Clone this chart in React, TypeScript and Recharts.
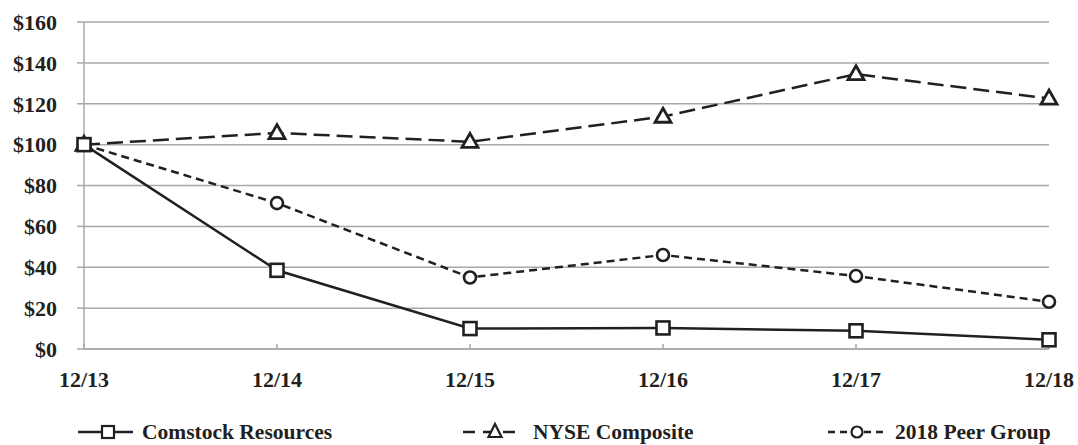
import React from "react";
import { LineChart, Line, XAxis, YAxis, CartesianGrid } from "recharts";

const categories = ["12/13", "12/14", "12/15", "12/16", "12/17", "12/18"];
const comstock = [100, 38.5, 10, 10.3, 8.9, 4.5];
const nyse = [100, 105.7, 101.4, 113.7, 134.5, 122.6];
const peer = [100, 71.4, 35, 46, 35.7, 23.1];
const yTicks = [0, 20, 40, 60, 80, 100, 120, 140, 160];

const data = categories.map((c, i) => ({
  cat: c,
  comstock: comstock[i],
  nyse: nyse[i],
  peer: peer[i],
}));

const INK = "#231f20";
const GRID = "#a8a8a8";
const FONT = "'Liberation Serif', 'Times New Roman', serif";

const SquareDot = (props: any) => {
  const { cx, cy, index } = props;
  if (cx == null || cy == null) return null;
  return (
    <rect key={`s-${index}`} x={cx - 6.5} y={cy - 6.5} width={13} height={13} fill="#fff" stroke={INK} strokeWidth={2.6} />
  );
};

const TriDot = (props: any) => {
  const { cx, cy, index } = props;
  if (cx == null || cy == null) return null;
  const s = 16;
  const h = 14;
  return (
    <path
      key={`t-${index}`}
      d={`M${cx},${cy - h * 0.6} L${cx + s / 2},${cy + h * 0.4} L${cx - s / 2},${cy + h * 0.4} Z`}
      fill="#fff"
      stroke={INK}
      strokeWidth={2.8}
      strokeLinejoin="miter"
    />
  );
};

const CircDot = (props: any) => {
  const { cx, cy, index } = props;
  if (cx == null || cy == null) return null;
  return <circle key={`c-${index}`} cx={cx} cy={cy} r={6} fill="#fff" stroke={INK} strokeWidth={2.6} />;
};

const XTick = (props: any) => {
  const { x, y, payload } = props;
  return (
    <text
      x={x}
      y={y}
      dy="0.71em"
      textAnchor="middle"
      fill={INK}
      style={{ fontFamily: FONT, fontWeight: "bold", fontSize: 22 }}
    >
      {payload.value}
    </text>
  );
};

const Legend = () => {
  const ly = 432;
  const ty = 439;
  const textStyle: React.CSSProperties = { fontFamily: FONT, fontWeight: "bold", fontSize: 21.5 };
  return (
    <svg width={1078} height={445} style={{ position: "absolute", left: 0, top: 0, pointerEvents: "none" }}>
      {/* Comstock */}
      <line x1={78} y1={ly} x2={133} y2={ly} stroke={INK} strokeWidth={2.5} />
      <rect x={102} y={ly - 6} width={12} height={12} fill="#fff" stroke={INK} strokeWidth={2.2} />
      <text x={142} y={ty} style={textStyle} fill={INK}>
        Comstock Resources
      </text>
      {/* NYSE */}
      <line x1={463} y1={ly} x2={518} y2={ly} stroke={INK} strokeWidth={2.5} strokeDasharray="12 8" />
      <path
        d={`M495,${ly - 8} L501.5,${ly + 5} L488.5,${ly + 5} Z`}
        fill="#fff"
        stroke={INK}
        strokeWidth={2.2}
      />
      <text x={533} y={ty} style={textStyle} fill={INK}>
        NYSE Composite
      </text>
      {/* Peer */}
      <line x1={828} y1={ly} x2={883} y2={ly} stroke={INK} strokeWidth={2.5} strokeDasharray="7 5" />
      <circle cx={857} cy={ly} r={5.5} fill="#fff" stroke={INK} strokeWidth={2.2} />
      <text x={895} y={ty} style={textStyle} fill={INK}>
        2018 Peer Group
      </text>
    </svg>
  );
};

export default function App() {
  return (
    <div style={{ position: "relative", width: 1078, height: 445, overflow: "hidden" }}>
      <style>{`body{margin:0;overflow:hidden}`}</style>
      <LineChart
        width={1078}
        height={400}
        data={data}
        margin={{ top: 22, right: 29, bottom: 12, left: 0 }}
      >
        <CartesianGrid horizontal={true} vertical={false} stroke={GRID} strokeWidth={1.5} />
        <XAxis
          dataKey="cat"
          stroke={GRID}
          strokeWidth={1.5}
          height={39}
          tickSize={-5}
          tickMargin={27}
          interval={0}
          tick={<XTick />}
        />
        <YAxis
          domain={[0, 160]}
          ticks={yTicks}
          width={84}
          stroke={GRID}
          strokeWidth={1.5}
          tickSize={7}
          tickMargin={20}
          interval={0}
          tickFormatter={(v: number) => `$${v}`}
          tick={{ fill: INK, fontFamily: FONT, fontWeight: "bold", fontSize: 22 }}
        />
        <Line
          dataKey="peer"
          stroke={INK}
          strokeWidth={2.5}
          strokeDasharray="8 5"
          dot={CircDot}
          activeDot={false}
          isAnimationActive={false}
        />
        <Line
          dataKey="nyse"
          stroke={INK}
          strokeWidth={2.5}
          strokeDasharray="16 7"
          dot={TriDot}
          activeDot={false}
          isAnimationActive={false}
        />
        <Line
          dataKey="comstock"
          stroke={INK}
          strokeWidth={2.5}
          dot={SquareDot}
          activeDot={false}
          isAnimationActive={false}
        />
      </LineChart>
      <Legend />
    </div>
  );
}
